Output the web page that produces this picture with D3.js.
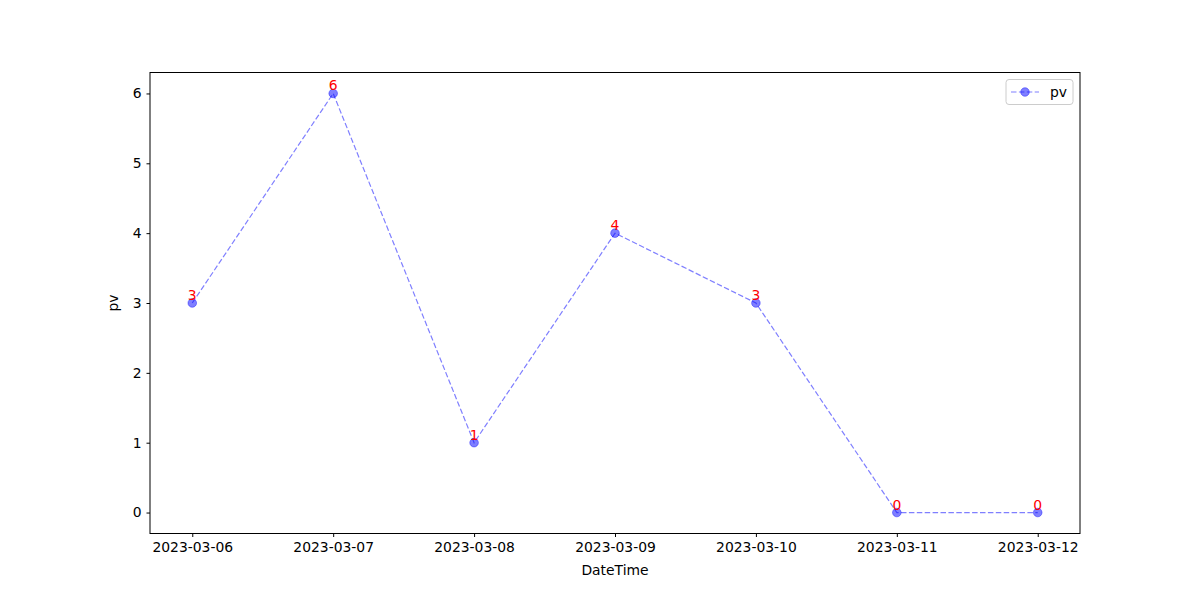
<!DOCTYPE html>
<meta charset="utf-8">
<script src="https://d3js.org/d3.v7.min.js"></script>
<style>
  body { margin: 0; background: #fff; }
  text { font-family: "DejaVu Sans", sans-serif; }
</style>
<div id="my_dataviz"></div>
<script>
    // data
    var dates = ["2023-03-06", "2023-03-07", "2023-03-08", "2023-03-09", "2023-03-10", "2023-03-11", "2023-03-12"];
    var pv = [3, 6, 1, 4, 3, 0, 0];
    var yTicks = [0, 1, 2, 3, 4, 5, 6];

    var margin = {top: 72.5, right: 120, bottom: 66.5, left: 150},
        width = 1200 - margin.left - margin.right,
        height = 600 - margin.top - margin.bottom;

    var svg = d3.select("#my_dataviz")
        .append("svg")
        .attr("width", 1200)
        .attr("height", 600)
        .append("g")
        .attr("transform", "translate(" + margin.left + "," + margin.top + ")");

    var parse = d3.timeParse("%Y-%m-%d");
    var data = dates.map(function(d, i) { return {date: parse(d), label: d, value: pv[i]}; });

    var t0 = data[0].date, t1 = data[data.length - 1].date;
    var pad = (t1 - t0) * 0.05;
    var x = d3.scaleTime()
        .domain([new Date(+t0 - pad), new Date(+t1 + pad)])
        .range([0, width]);

    var y = d3.scaleLinear()
        .domain([-0.3, 6.3])
        .range([height, 0]);

    // X axis
    var xAxis = svg.append("g")
        .attr("transform", "translate(0," + height + ")")
        .call(d3.axisBottom(x).tickValues(data.map(function(d) { return d.date; }))
            .tickFormat(d3.timeFormat("%Y-%m-%d")).tickSizeOuter(0).tickSize(3.5).tickPadding(5));
    xAxis.selectAll("text").style("font-size", "13.9px").attr("fill", "#000");

    // Y axis
    var yAxis = svg.append("g")
        .call(d3.axisLeft(y).tickValues(yTicks).tickFormat(d3.format("d")).tickSizeOuter(0).tickSize(3.5).tickPadding(5));
    yAxis.selectAll("text").style("font-size", "13.9px").attr("fill", "#000");
    svg.selectAll(".domain").remove();

    // frame
    svg.append("rect")
        .attr("width", width).attr("height", height)
        .attr("fill", "none").attr("stroke", "#000").attr("stroke-width", 1);

    // labels
    svg.append("text")
        .attr("text-anchor", "middle")
        .attr("x", width / 2)
        .attr("y", height + 41)
        .style("font-size", "13.9px")
        .text("DateTime");

    svg.append("text")
        .attr("text-anchor", "middle")
        .attr("transform", "rotate(-90)")
        .attr("x", -height / 2)
        .attr("y", -32)
        .style("font-size", "13.9px")
        .text("pv");

    var line = d3.line()
        .x(function(d) { return x(d.date); })
        .y(function(d) { return y(d.value); });

    svg.append("path")
        .datum(data)
        .attr("fill", "none")
        .attr("stroke", "blue")
        .attr("stroke-opacity", 0.5)
        .attr("stroke-width", 1.2)
        .attr("stroke-dasharray", "5.5,2.4")
        .attr("d", line);

    svg.append("g")
        .selectAll("circle")
        .data(data)
        .enter()
        .append("circle")
        .attr("cx", function(d) { return x(d.date); })
        .attr("cy", function(d) { return y(d.value); })
        .attr("r", 4.3)
        .attr("fill", "blue")
        .attr("fill-opacity", 0.5)
        .attr("stroke", "blue")
        .attr("stroke-opacity", 0.5)
        .attr("stroke-width", 0.8);

    svg.append("g")
        .selectAll("text")
        .data(data)
        .enter()
        .append("text")
        .attr("x", function(d) { return x(d.date); })
        .attr("y", function(d) { return y(d.value) - 3; })
        .attr("text-anchor", "middle")
        .attr("fill", "red")
        .style("font-size", "13.9px")
        .text(function(d) { return d.value; });

    // legend
    var lg = svg.append("g").attr("transform", "translate(" + (width - 74) + ",7)");
    lg.append("rect")
        .attr("width", 67).attr("height", 25).attr("rx", 3)
        .attr("fill", "#fff").attr("fill-opacity", 0.8)
        .attr("stroke", "#ccc").attr("stroke-width", 1);
    lg.append("line")
        .attr("x1", 5).attr("x2", 33).attr("y1", 12.5).attr("y2", 12.5)
        .attr("stroke", "blue").attr("stroke-opacity", 0.5).attr("stroke-width", 1.2)
        .attr("stroke-dasharray", "5.5,2.4");
    lg.append("circle")
        .attr("cx", 19).attr("cy", 12.5).attr("r", 4.3)
        .attr("fill", "blue").attr("fill-opacity", 0.5)
        .attr("stroke", "blue").attr("stroke-opacity", 0.5).attr("stroke-width", 0.8);
    lg.append("text")
        .attr("x", 44).attr("y", 17)
        .style("font-size", "13.9px")
        .text("pv");
</script>
